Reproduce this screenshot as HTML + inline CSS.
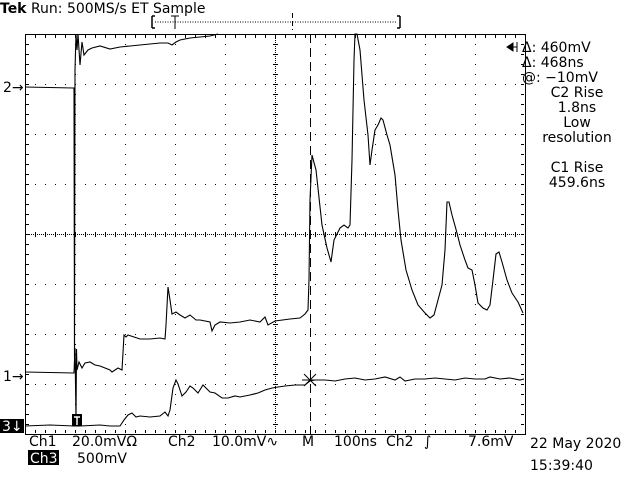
<!DOCTYPE html>
<html><head><meta charset="utf-8">
<style>
body{margin:0;background:#fff;}
svg{display:block;font-family:"DejaVu Sans","Liberation Sans",sans-serif;}
text{fill:#000;}
</style></head>
<body>
<svg id="scope" width="640" height="480" viewBox="0 0 640 480" xmlns="http://www.w3.org/2000/svg">
<rect width="640" height="480" fill="#fff"/>
<text x="0" y="13" font-size="14"><tspan font-weight="bold">Tek</tspan> Run: 500MS/s ET Sample</text>
<g id="grid"></g>
<g id="traces"></g>
<g>
<path d="M152,16 v12 M152,16 h3 M152,28 h3 M400,16 v12 M400,16 h-3 M400,28 h-3" stroke="#000" stroke-width="1.5" fill="none"/>
<line x1="155" y1="22" x2="397" y2="22" stroke="#000" stroke-dasharray="1,1.5"/>
<path d="M171,16 h8 M175,16 v13" stroke="#000" fill="none"/>
<line x1="292.5" y1="13" x2="292.5" y2="30" stroke="#000" stroke-dasharray="5,3"/>
</g>
<line x1="310.5" y1="34" x2="310.5" y2="434" stroke="#000" stroke-dasharray="9,5"/>
<text x="3" y="92" font-size="14">2→</text>
<text x="3" y="381" font-size="14">1→</text>
<rect x="0" y="419" width="24" height="14" fill="#000"/>
<text x="2" y="431" font-size="14" style="fill:#fff">3↓</text>
<g>
<rect x="72" y="414" width="10" height="12" fill="#000"/>
<path d="M74,417 h6 M77,417 v8" stroke="#fff" stroke-width="1.5"/>
</g>
<path d="M507,47 l6,-4 v8 z M513,47 h4 M517,42 v10" stroke="#000" fill="#000"/>
<g font-size="14">
<text x="522" y="52">Δ: 460mV</text>
<text x="522" y="67">Δ: 468ns</text>
<text x="522" y="82">@: −10mV</text>
<text x="577" y="97" text-anchor="middle">C2 Rise</text>
<text x="577" y="112" text-anchor="middle">1.8ns</text>
<text x="577" y="127" text-anchor="middle">Low</text>
<text x="577" y="142" text-anchor="middle">resolution</text>
<text x="577" y="172" text-anchor="middle">C1 Rise</text>
<text x="577" y="187" text-anchor="middle">459.6ns</text>
</g>
<g font-size="14">
<text x="29" y="446">Ch1</text><text x="72" y="446">20.0mVΩ</text>
<text x="168" y="446">Ch2</text><text x="212" y="446">10.0mV∿</text>
<text x="302" y="446">M</text><text x="334" y="446">100ns</text>
<text x="386" y="446">Ch2</text><text x="424" y="446">∫</text>
<text x="468" y="446">7.6mV</text>
<rect x="28" y="450" width="31" height="15" fill="#000"/>
<text x="30" y="463" style="fill:#fff">Ch3</text><text x="77" y="463">500mV</text>
<text x="530" y="448">22 May 2020</text>
<text x="530" y="470">15:39:40</text>
</g>
</svg>
<script>
// trace data: time in units of 2ns (50 units = 1 div = 100ns), y in divisions from top (0..8)
const ch1T=[0,49,50,51,51.5,52,54,57,60,65,70,75,85,87,93,97,99,101,103,115,125,135,140,141,143,145,147,151,155,160,165,171,175,185,187,190,195,205,215,225,235,240,243,250,265,275,280,283,284,285,287,291,297,302,306,309,313,315,319,323,325,327,329,330,332,335,339,343,345,347,350,353,356,358,362,365,370,373,376,381,387,393,400,405,409,413,417,420,422,424,427,432,435,440,443,447,450,453,458,462,465,468,471,474,477,482,487,493,498];
const ch1V=[6.76,6.78,6.28,7.7,6.3,6.72,6.56,6.68,6.58,6.56,6.62,6.64,6.72,6.76,6.68,6.72,6.02,6.06,6.02,6.1,6.1,6.08,6.1,5.82,5.06,5.32,5.6,5.56,5.62,5.68,5.62,5.72,5.72,5.76,5.94,5.82,5.76,5.78,5.76,5.72,5.76,5.66,5.82,5.74,5.7,5.68,5.6,5.52,4.92,3.32,2.42,2.72,3.82,4.28,4.56,4.12,3.96,3.88,3.82,3.88,3.82,2.52,0.52,0,0,0.32,1.32,2.02,2.62,2.32,1.92,1.82,1.68,1.72,2.02,2.22,2.82,3.52,4.12,4.72,5.12,5.42,5.58,5.68,5.62,5.32,5.02,4.32,3.36,3.36,3.62,3.98,4.22,4.52,4.68,4.72,5.02,5.38,5.48,5.52,5.42,4.92,4.4,4.36,4.56,4.92,5.18,5.36,5.58];
const ch2T=[0,48,49,49.5,50,51,52,53,55,57,59,63,67,75,85,95,105,115,125,135,143,147,151,155,165,175,185,193];
const ch2V=[1.06,1.08,1.08,6.5,0.72,0,0.32,0,0.62,0.16,0.42,0.32,0.28,0.24,0.3,0.26,0.24,0.22,0.2,0.18,0.18,0.22,0.16,0.12,0.08,0.06,0.04,0];
const ch3T=[0,25,49,55,75,85,95,99,103,107,111,115,125,135,140,143,145,148,151,153,157,161,165,168,173,178,181,185,190,197,203,210,215,225,233,240,247,253,260,270,280,285,290,300,310,320,330,340,350,360,370,375,380,390,400,410,420,430,440,450,460,465,475,485,495,499];
const ch3V=[7.84,7.82,7.84,7.84,7.82,7.84,7.84,7.72,7.62,7.58,7.66,7.64,7.66,7.64,7.56,7.64,7.52,7.08,6.92,7.0,7.24,7.16,7.04,7.08,7.18,7.02,7.08,7.16,7.18,7.28,7.28,7.24,7.26,7.22,7.18,7.12,7.08,7.06,7.04,7.02,7.02,6.94,6.92,6.92,6.94,6.9,6.88,6.92,6.9,6.86,6.92,6.86,6.94,6.9,6.9,6.88,6.9,6.92,6.88,6.9,6.9,6.86,6.9,6.88,6.92,6.9];

const X0=25,Y0=34,DIV=50,TPD=50;
function xs(t){return X0+t/TPD*DIV;}
function ys(v){return Y0+v*DIV;}
const NS="http://www.w3.org/2000/svg";
const grid=document.getElementById('grid');
function mk(tag,attrs,parent){const e=document.createElementNS(NS,tag);for(const k in attrs)e.setAttribute(k,attrs[k]);parent.appendChild(e);return e;}
const frame=mk('rect',{x:X0+0.5,y:Y0+0.5,width:500,height:400,fill:'none',stroke:'#000','stroke-width':1},grid);


for(let i=1;i<10;i++){
  const x=X0+i*DIV;
  for(let y=Y0+10;y<Y0+400;y+=10){mk('rect',{x:x,y:y,width:1,height:1,fill:'#000'},grid);}
}
for(let j=1;j<8;j++){
  const y=Y0+j*DIV;
  for(let x=X0+10;x<X0+500;x+=10){mk('rect',{x:x,y:y,width:1,height:1,fill:'#000'},grid);}
}
for(let x=X0;x<X0+500;x+=2){mk('rect',{x:x,y:Y0+200,width:1,height:1,fill:'#000'},grid);}
for(let y=Y0;y<Y0+400;y+=2){mk('rect',{x:X0+250,y:y,width:1,height:1,fill:'#000'},grid);}
for(let x=X0;x<=X0+500;x+=10){mk('rect',{x:x,y:Y0+198,width:1,height:5,fill:'#000'},grid);mk('rect',{x:x,y:Y0+1,width:1,height:3,fill:'#000'},grid);mk('rect',{x:x,y:Y0+396,width:1,height:3,fill:'#000'},grid);}
for(let y=Y0;y<=Y0+400;y+=10){mk('rect',{x:X0+248,y:y,width:5,height:1,fill:'#000'},grid);mk('rect',{x:X0+1,y:y,width:3,height:1,fill:'#000'},grid);mk('rect',{x:X0+496,y:y,width:3,height:1,fill:'#000'},grid);}

const tr=document.getElementById('traces');
function drawTrace(T,V,name){
  let d='';
  for(let i=0;i<T.length;i++){d+=(i?'L':'M')+xs(T[i]).toFixed(1)+','+ys(V[i]).toFixed(1);}
  const p=mk('path',{d:d,fill:'none',stroke:'#000','stroke-width':1.1},tr);
  
  
}
drawTrace(ch1T,ch1V,'ch1-trace');
drawTrace(ch2T,ch2V,'ch2-trace');
drawTrace(ch3T,ch3V,'ch3-trace');
const cx=xs(285),cy=ys(6.92);
const xm=mk('path',{d:`M${cx-6},${cy-6}L${cx+6},${cy+6}M${cx-6},${cy+6}L${cx+6},${cy-6}M${cx-8},${cy}H${cx+8}`,stroke:'#000',fill:'none'},tr);


</script>
</body></html>
